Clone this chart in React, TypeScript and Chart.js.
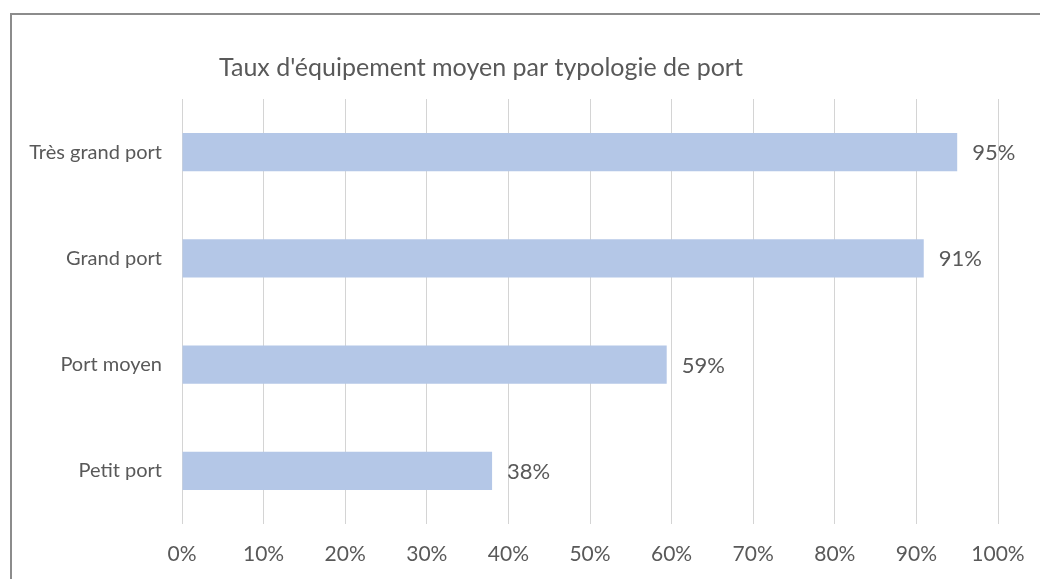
import React, { useEffect, useRef } from "react";
import { Chart, registerables } from "chart.js";

Chart.register(...registerables);

const chartTitle = "Taux d'équipement moyen par typologie de port";
const categories = ["Très grand port", "Grand port", "Port moyen", "Petit port"];
const values = [95, 90.9, 59.4, 38];
const axisMin = 0;
const axisMax = 100;
const axisStep = 10;

const FONT = "Lato, 'Open Sans', sans-serif";
const TEXT = "#595959";

const valueLabelPlugin = {
  id: "valueLabels",
  afterDatasetsDraw(chart: any) {
    const ctx = chart.ctx;
    const meta = chart.getDatasetMeta(0);
    ctx.save();
    ctx.font = `22px ${FONT}`;
    ctx.fillStyle = TEXT;
    ctx.textAlign = "left";
    ctx.textBaseline = "middle";
    meta.data.forEach((bar: any, i: number) => {
      ctx.fillText(Math.round(values[i]) + "%", bar.x + 15, bar.y + 1);
    });
    ctx.restore();
  },
};

const titlePlugin = {
  id: "customTitle",
  afterDraw(chart: any) {
    const ctx = chart.ctx;
    ctx.save();
    ctx.font = `25px ${FONT}`;
    ctx.fillStyle = TEXT;
    ctx.textAlign = "center";
    ctx.textBaseline = "middle";
    ctx.fillText(chartTitle, chart.chartArea.left + 299, 68);
    ctx.restore();
  },
};

export default function App() {
  const ref = useRef<HTMLCanvasElement>(null);
  useEffect(() => {
    if (!ref.current) return;
    const chart = new Chart(ref.current, {
      type: "bar",
      data: {
        labels: categories,
        datasets: [
          {
            data: values,
            backgroundColor: "#b4c7e7",
            borderWidth: 0,
            barPercentage: 0.72,
            categoryPercentage: 0.5,
          },
        ],
      },
      options: {
        indexAxis: "y",
        animation: false,
        responsive: false,
        maintainAspectRatio: false,
        layout: { padding: { top: 99, right: 42, left: 0, bottom: 0 } },
        plugins: {
          legend: { display: false },
          title: { display: false },
          tooltip: { enabled: false },
        },
        scales: {
          x: {
            min: axisMin,
            max: axisMax,
            afterFit(scale: any) {
              scale.height = 55;
              scale.paddingLeft = 0;
              scale.paddingRight = 0;
            },
            ticks: {
              stepSize: axisStep,
              padding: 18,
              color: TEXT,
              font: { family: FONT, size: 21 },
              callback: (v: any) => v + "%",
            },
            grid: { color: "#d4d4d4", lineWidth: 1, drawTicks: false },
            border: { display: false },
          },
          y: {
            afterFit(scale: any) {
              scale.width = 182;
            },
            ticks: {
              padding: 12,
              color: TEXT,
              font: { family: FONT, size: 20 },
            },
            grid: { display: false },
            border: { display: false },
          },
        },
      },
      plugins: [valueLabelPlugin, titlePlugin],
    });
    return () => chart.destroy();
  }, []);

  return (
    <div style={{ position: "fixed", left: 0, top: 0, width: 1040, height: 579, background: "#fff", overflow: "hidden" }}>
      <div
        style={{
          position: "absolute",
          left: 10,
          top: 13,
          width: 1100,
          height: 700,
          border: "2px solid #8c8c8c",
        }}
      />
      <canvas ref={ref} width={1040} height={579} style={{ position: "absolute", left: 0, top: 0, width: 1040, height: 579 }} />
    </div>
  );
}
